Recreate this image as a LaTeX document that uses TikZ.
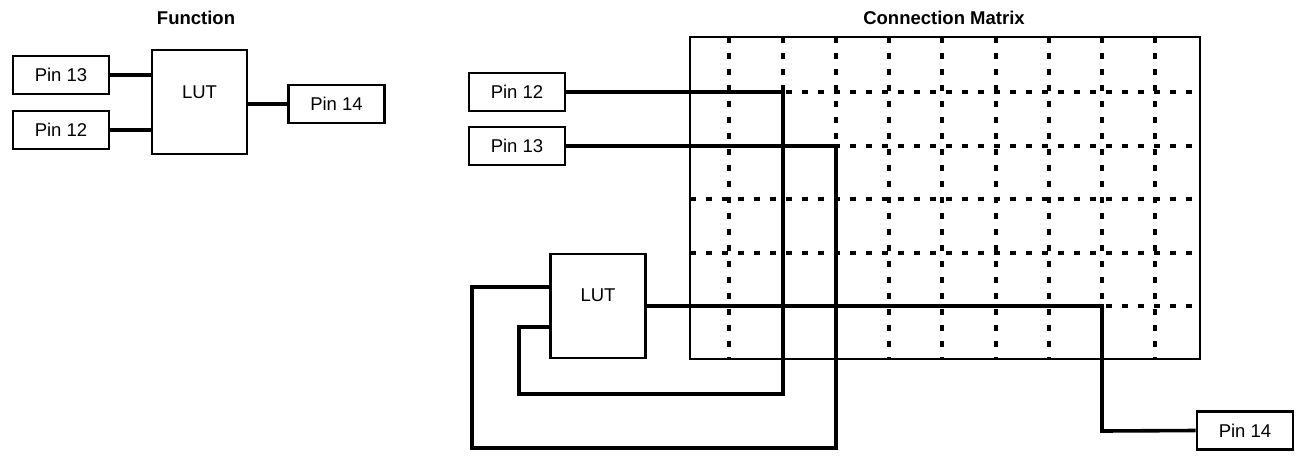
\documentclass[tikz,border=0pt]{standalone}
\usepackage{fontspec}
\setmainfont{Liberation Sans}
\begin{document}
\begin{tikzpicture}[x=0.5pt,y=-0.5pt,
  font=\fontsize{9.25}{11}\selectfont,
  pinbox/.style={draw,line width=1.3pt,minimum width=48pt,minimum height=19pt,inner sep=0pt},
  lutbox/.style={draw,line width=1.3pt,minimum width=47.5pt,minimum height=52pt,inner sep=0pt},
  wire/.style={line width=1.8pt},
  gridline/.style={line width=1.6pt,dash pattern=on 3pt off 5pt},
  title/.style={font=\bfseries\fontsize{9.25}{11}\selectfont}]

\useasboundingbox (0,0) rectangle (1299,455);

%标题
\node[title] (tF) at (196,18) {Function};
\node[title] (tM) at (944,18) {Connection Matrix};

%左边的功能图
\node[pinbox] (p13F) at (61,75) {Pin 13};
\node[pinbox] (p12F) at (61,130) {Pin 12};
\node[lutbox,label={[yshift=5pt]center:LUT}] (lutF) at (199.5,102) {};
\node[pinbox] (p14F) at (336.5,104) {Pin 14};
\draw[wire] (p13F.east) -- (p13F.east -| lutF.west);
\draw[wire] (p12F.east) -- (p12F.east -| lutF.west);
\draw[wire] (lutF.east |- p14F.west) -- (p14F.west);

%连接矩阵的外框和虚线网格
\draw[line width=1.3pt] (690,37) rectangle (1200,359);
\foreach \x in {729,783,836,889,942,996,1049,1102,1155}
  \draw[gridline] (\x,37) -- (\x,359);
\foreach \y in {92,146,199,253,306}
  \draw[gridline] (690,\y) -- (1200,\y);

%右边的引脚和LUT
\node[pinbox,fill=white] (p12M) at (517,92) {Pin 12};
\node[pinbox,fill=white] (p13M) at (517,146) {Pin 13};
\node[lutbox,fill=white,label={[yshift=5.5pt]center:LUT}] (lutM) at (598,306) {};
\node[pinbox,fill=white] (p14M) at (1245,430.5) {Pin 14};
\coordinate (inA) at ([yshift=9.5pt]lutM.west);
\coordinate (inB) at ([yshift=-10.5pt]lutM.west);

%连线
\draw[wire] (p12M.east) -| (783,394) -| (519,327) -- (inB);
\draw[wire] (p13M.east) -| (836,448) -| (472,287) -- (inA);
\draw[wire] (lutM.east) -| (1102,431) -- (p14M.west);

\end{tikzpicture}
\end{document}
